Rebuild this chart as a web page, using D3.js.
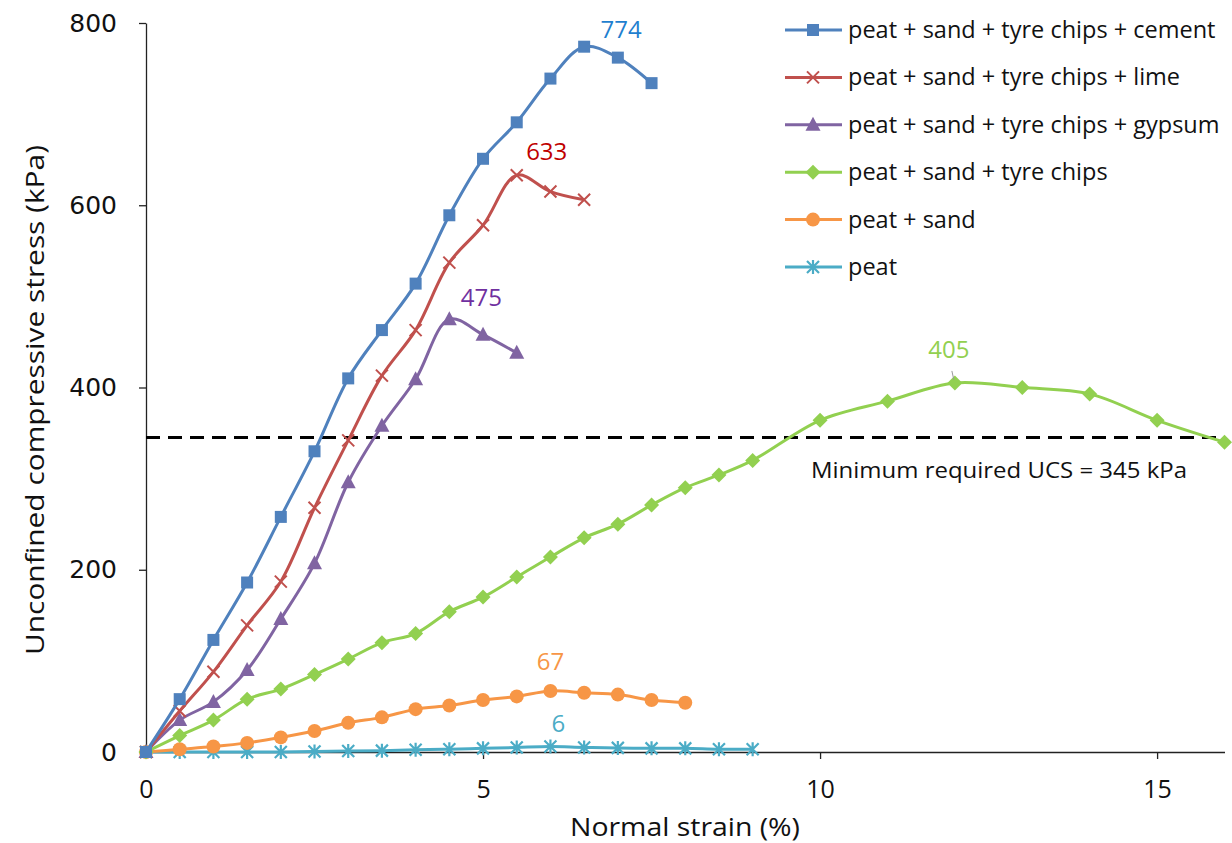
<!DOCTYPE html>
<html><head><meta charset="utf-8">
<script src="https://cdn.jsdelivr.net/npm/d3@7"></script>
<style>body{margin:0;background:#fff}svg{display:block}</style>
</head><body><svg id="c" width="1232" height="843"></svg>
<script>
const seriesNames = ["peat + sand + tyre chips + cement","peat + sand + tyre chips + lime","peat + sand + tyre chips + gypsum","peat + sand + tyre chips","peat + sand","peat"];
const cementX = [0,0.5,1,1.5,2,2.5,3,3.5,4,4.5,5,5.5,6,6.5,7,7.5];
const cementY = [0,58,123,186,258,330,410,463,514,589,651,691,739,774,762,734];
const limeX = [0,0.5,1,1.5,2,2.5,3,3.5,4,4.5,5,5.5,6,6.5];
const limeY = [0,45,88,139,187,268,342,413,463,537,578,633,615,606];
const gypsumX = [0,0.5,1,1.5,2,2.5,3,3.5,4,4.5,5,5.5];
const gypsumY = [0,35,55,90,146,207,296,358,409,475,458,438];
const tyreX = [0,0.5,1,1.5,2,2.5,3,3.5,4,4.5,5,5.5,6,6.5,7,7.5,8,8.5,9,10,11,12,13,14,15,16];
const tyreY = [0,18,35,58,69,85,102,120,130,154,170,192,214,235,250,271,290,304,320,364,385,405,400,393,364,340];
const sandX = [0,0.5,1,1.5,2,2.5,3,3.5,4,4.5,5,5.5,6,6.5,7,7.5,8];
const sandY = [0,3,6,10,16,23,32,38,47,51,57,61,67,65,63,57,54];
const peatX = [0,0.5,1,1.5,2,2.5,3,3.5,4,4.5,5,5.5,6,6.5,7,7.5,8,8.5,9];
const peatY = [0,0,0,0,0,0.5,1,1.5,2.5,3,4,5,6,5,4.5,4,4,3,3];
const lineColors = ["#4F81BD","#C0504D","#8064A2","#92D050","#F79646","#4BACC6"];
const labelColors = ["#1F7FCF","#C00000","#7030A0","#92D050","#F79646","#4BACC6"];
const markers = ["square","cross","triangle","diamond","circle","star"];
const peakLabels = ["774","633","475","405","67","6"];
const peakX = [6.5,5.5,4.5,12,6,6];
const peakY = [774,633,475,405,67,6];
const xTicks = [0,5,10,15];
const yTicks = [0,200,400,600,800];
const minUCS = 345;

const xs = [cementX,limeX,gypsumX,tyreX,sandX,peatX];
const ys = [cementY,limeY,gypsumY,tyreY,sandY,peatY];

const svg = d3.select("#c");
const x = d3.scaleLinear().domain([0,16]).range([146,1224.5]);
const y = d3.scaleLinear().domain([0,800]).range([752,23]);

// axes
const yAxis = svg.append("g").attr("transform","translate(146,0)")
  .call(d3.axisLeft(y).tickValues(yTicks).tickSize(7).tickSizeOuter(0).tickPadding(22));
yAxis.select(".domain").attr("stroke","#222").attr("stroke-width",1.3);
yAxis.selectAll(".tick line").attr("stroke","#222").attr("stroke-width",1.3);
yAxis.selectAll("text").attr("font-family","DejaVu Sans").attr("font-size",25).attr("fill","#111");

const xAxis = svg.append("g").attr("transform","translate(0,752)")
  .call(d3.axisBottom(x).tickValues(xTicks).tickSize(7).tickSizeOuter(0).tickPadding(21));
xAxis.select(".domain").attr("stroke","#222").attr("stroke-width",1.3);
xAxis.selectAll(".tick line").attr("stroke","#222").attr("stroke-width",1.3);
xAxis.selectAll("text").attr("font-family","Open Sans").attr("font-size",25).attr("fill","#111");

svg.append("text").attr("x",685).attr("y",836).attr("text-anchor","middle")
  .attr("font-family","Open Sans").attr("font-size",26).attr("fill","#111")
  .attr("textLength",230).attr("lengthAdjust","spacingAndGlyphs").text("Normal strain (%)");
svg.append("text").attr("transform","translate(44,400) rotate(-90)").attr("text-anchor","middle")
  .attr("font-family","Open Sans").attr("font-size",26).attr("fill","#111")
  .attr("textLength",510).attr("lengthAdjust","spacingAndGlyphs").text("Unconfined compressive stress (kPa)");

// dashed line
svg.append("line").attr("x1",x(0)).attr("x2",x(16)).attr("y1",y(minUCS)).attr("y2",y(minUCS))
  .attr("stroke","#000").attr("stroke-width",3).attr("stroke-dasharray","14,8");
svg.append("text").attr("x",811).attr("y",478).attr("font-family","Open Sans").attr("font-size",21)
  .attr("fill","#111").attr("textLength",376).attr("lengthAdjust","spacingAndGlyphs").text("Minimum required UCS = 345 kPa");

function drawMarker(g, type, cx, cy, color){
  if(type==="square") g.append("rect").attr("x",cx-6).attr("y",cy-6).attr("width",12).attr("height",12).attr("fill",color);
  else if(type==="cross"){
    g.append("path").attr("d",`M${cx-6},${cy-6}L${cx+6},${cy+6}M${cx-6},${cy+6}L${cx+6},${cy-6}`).attr("stroke",color).attr("stroke-width",2).attr("fill","none");
  } else if(type==="triangle") g.append("path").attr("d",`M${cx},${cy-8}L${cx+7.5},${cy+6}L${cx-7.5},${cy+6}Z`).attr("fill",color);
  else if(type==="diamond") g.append("path").attr("d",`M${cx},${cy-7.5}L${cx+7.5},${cy}L${cx},${cy+7.5}L${cx-7.5},${cy}Z`).attr("fill",color);
  else if(type==="circle") g.append("circle").attr("cx",cx).attr("cy",cy).attr("r",7).attr("fill",color);
  else if(type==="star"){
    g.append("path").attr("d",`M${cx-6},${cy-6}L${cx+6},${cy+6}M${cx-6},${cy+6}L${cx+6},${cy-6}M${cx},${cy-7}L${cx},${cy+7}`).attr("stroke",color).attr("stroke-width",2.2).attr("fill","none");
  }
}

const line = d3.line().curve(d3.curveCatmullRom.alpha(0.5));
for(let i=5;i>=0;i--){
  const pts = xs[i].map((v,j)=>[x(v),y(ys[i][j])]);
  const g = svg.append("g");
  g.append("path").attr("d",line(pts)).attr("fill","none").attr("stroke",lineColors[i]).attr("stroke-width",3);
  pts.forEach(p=>drawMarker(g,markers[i],p[0],p[1],lineColors[i]));
}

// peak labels
const labelDx = [37,30,32,-6,0,8];
const labelDy = [-9,-15,-13,-25,-21,-15];
peakLabels.forEach((t,i)=>{
  svg.append("text").attr("x",x(peakX[i])+labelDx[i]).attr("y",y(peakY[i])+labelDy[i])
    .attr("text-anchor","middle").attr("font-family","Open Sans").attr("font-size",24)
    .attr("fill",labelColors[i]).text(t);
});
svg.append("line").attr("x1",x(12)-1).attr("x2",x(12)-3).attr("y1",y(405)-3).attr("y2",y(405)-12).attr("stroke","#999").attr("stroke-width",1);

// legend
const lg = svg.append("g");
seriesNames.forEach((n,i)=>{
  const cy = 30 + i*47.4;
  lg.append("line").attr("x1",785).attr("x2",842).attr("y1",cy).attr("y2",cy).attr("stroke",lineColors[i]).attr("stroke-width",3);
  drawMarker(lg,markers[i],813,cy,lineColors[i]);
  lg.append("text").attr("x",848).attr("y",cy+8).attr("font-family","Open Sans").attr("font-size",23.5)
    .attr("fill","#111").text(n);
});
</script></body></html>
